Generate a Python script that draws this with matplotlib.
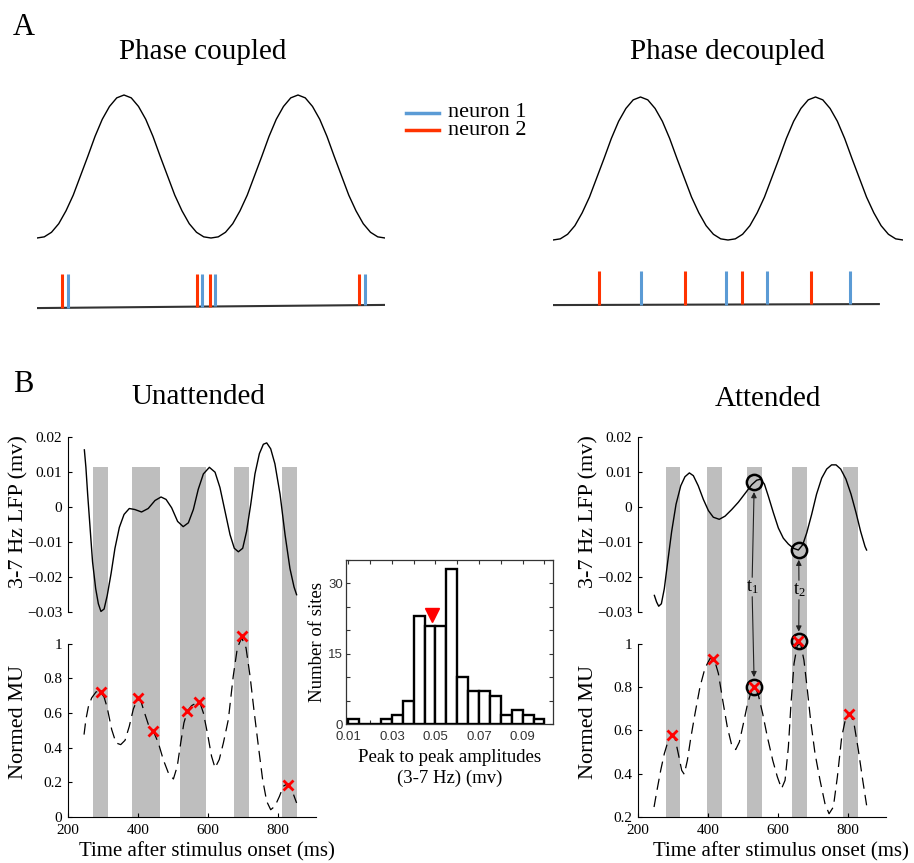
import numpy as np
import matplotlib
matplotlib.use('Agg')
import matplotlib.pyplot as plt
from matplotlib.lines import Line2D

plt.rcParams['font.family'] = ['Liberation Serif', 'DejaVu Serif']
plt.rcParams['mathtext.fontset'] = 'stix'

W, H = 914, 863

# ---- panel A: schematic theta wave (trough -> peak, 2 cycles) and spikes (% of width)
wave = [0, 0.008, 0.04, 0.1, 0.19, 0.3, 0.435, 0.57, 0.71, 0.83, 0.92, 0.98, 1,
        0.98, 0.92, 0.83, 0.71, 0.57, 0.435, 0.3, 0.19, 0.1, 0.04, 0.008, 0,
        0.008, 0.04, 0.1, 0.19, 0.3, 0.435, 0.57, 0.71, 0.83, 0.92, 0.98, 1,
        0.98, 0.92, 0.83, 0.71, 0.57, 0.435, 0.3, 0.19, 0.1, 0.04, 0.008, 0]
coupled_n1 = [8.9, 47.4, 51.1, 94.3]
coupled_n2 = [7.2, 46.0, 49.7, 92.5]
decoupled_n1 = [25.1, 49.4, 61.1, 84.9]
decoupled_n2 = [13.1, 37.7, 54.0, 73.7]
neuron_labels = ['neuron 1', 'neuron 2']

# ---- panel B: unattended
unatt_t = [247.6, 252, 257, 264, 271, 280, 287.6, 295, 304, 313, 324, 335, 347.6, 361, 376,
           392, 411, 430, 449.5, 466.7, 481, 497, 514, 530, 544.8, 559, 573, 587.6, 604.8,
           621, 635, 649.5, 663.8, 676, 687.6, 700, 711, 723, 735, 747.6, 759, 768.6, 780,
           792, 806.7, 821, 835, 846.7, 854]
unatt_lfp = [0.0164, 0.0114, 0.0037, -0.006, -0.0157, -0.0234, -0.0277, -0.0299, -0.0292,
             -0.0253, -0.019, -0.0118, -0.0058, -0.0021, -0.0004, -0.0007, -0.0014, -0.0004,
             0.0019, 0.0029, 0.0022, -0.0002, -0.0041, -0.0056, -0.0045, -0.0007, 0.0051,
             0.0095, 0.0114, 0.01, 0.0056, -0.0012, -0.0079, -0.0118, -0.0128, -0.0118,
             -0.007, 0.0008, 0.0095, 0.0153, 0.018, 0.0184, 0.0167, 0.0124, 0.0037, -0.0079,
             -0.0176, -0.0229, -0.0251]
unatt_mu_t = [246.7, 252, 259, 268.6, 281, 292, 303.8, 313, 325.7, 338, 351.4, 363.8, 376,
              387.6, 399, 408.6, 418, 430.5, 444.8, 459, 473, 487.6, 502, 513, 522.9, 532,
              541.9, 554, 568.6, 578, 587.6, 599, 611, 621, 633, 644.8, 659, 673, 684.8, 697,
              709.5, 721, 732, 744.8, 757, 768.6, 780, 792, 805, 816, 827.6, 840, 854]
unatt_mu = [0.475, 0.562, 0.635, 0.687, 0.721, 0.725, 0.692, 0.629, 0.504, 0.427, 0.417,
            0.442, 0.523, 0.623, 0.677, 0.671, 0.61, 0.533, 0.494, 0.427, 0.331, 0.254, 0.219,
            0.292, 0.427, 0.542, 0.61, 0.642, 0.658, 0.658, 0.6, 0.485, 0.35, 0.283, 0.331,
            0.427, 0.562, 0.812, 0.975, 1.033, 0.975, 0.812, 0.619, 0.408, 0.215, 0.09, 0.042,
            0.062, 0.119, 0.177, 0.192, 0.158, 0.081]
unatt_peak_t = [294, 400, 444.8, 542, 576, 697, 830.5]
unatt_peak_mu = [0.721, 0.687, 0.498, 0.61, 0.663, 1.042, 0.187]
unatt_bars = [(273, 316), (383, 464), (521, 594), (676, 718), (811, 854)]

# ---- panel B: attended
att_t = [247.6, 254, 260, 267.6, 276, 285.7, 297, 309.5, 323, 335, 347.6, 359, 373, 387.6,
         402, 416, 433, 449.5, 468.6, 487.6, 506.7, 525.7, 540, 551.4, 562, 573, 587.6,
         601.9, 616, 630.5, 644.8, 659, 671.4, 682.9, 697, 711, 725.7, 740, 754, 766.7, 780,
         795, 809.5, 823.8, 837, 849.5, 854]
att_lfp = [-0.0253, -0.0272, -0.0284, -0.0277, -0.0234, -0.0157, -0.007, 0.0008, 0.0061,
           0.0087, 0.0098, 0.009, 0.0061, 0.0022, -0.001, -0.0029, -0.0035, -0.0026, -0.0007,
           0.0014, 0.0039, 0.0064, 0.0077, 0.008, 0.0066, 0.0032, -0.0016, -0.006, -0.0089,
           -0.0106, -0.0118, -0.0123, -0.0108, -0.0074, -0.0021, 0.0037, 0.0083, 0.0109,
           0.0121, 0.0121, 0.0109, 0.008, 0.0037, -0.0016, -0.007, -0.0113, -0.0123]
att_mu_t = [246.7, 256, 265.7, 276, 287.6, 297, 306.7, 316, 325.7, 333, 342, 351.4, 363.8,
            378, 392, 406.7, 419, 430.5, 442.9, 456, 468.6, 480, 490.5, 502, 514, 525.7, 535,
            544.8, 557, 570.5, 585.7, 599, 611, 621, 630.5, 638, 646.7, 656, 665.7, 675,
            684.8, 694, 706.7, 721, 735, 746.7, 759, 770.5, 782.9, 795, 806.7, 818, 830.5,
            843, 854]
att_mu = [0.246, 0.331, 0.415, 0.492, 0.554, 0.577, 0.562, 0.492, 0.415, 0.397, 0.462, 0.562,
          0.677, 0.8, 0.885, 0.931, 0.926, 0.862, 0.738, 0.615, 0.531, 0.511, 0.546, 0.631,
          0.723, 0.785, 0.803, 0.762, 0.677, 0.569, 0.462, 0.385, 0.331, 0.369, 0.523, 0.723,
          0.908, 0.992, 0.997, 0.923, 0.785, 0.646, 0.492, 0.369, 0.262, 0.215, 0.246, 0.385,
          0.569, 0.662, 0.68, 0.631, 0.508, 0.369, 0.254]
att_peak_t = [297, 416, 533, 659, 805]
att_peak_mu = [0.577, 0.93, 0.80, 1.01, 0.677]
att_bars = [(280, 322), (397, 440), (511, 555), (642, 684), (787, 829)]
circled_t = [533, 660]
circled_lfp = [0.0071, -0.0123]
circled_mu = [0.80, 1.01]

# ---- histogram of peak-to-peak amplitudes
bin_left = [0.010, 0.015, 0.020, 0.025, 0.030, 0.035, 0.040, 0.045, 0.050,
            0.055, 0.060, 0.065, 0.070, 0.075, 0.080, 0.085, 0.090, 0.095]
counts = [1, 0, 0, 1, 2, 5, 23, 21, 21, 33, 10, 7, 7, 6, 2, 3, 2, 1]
median_amp = 0.0485

BLUE = '#5b9bd5'
RED = '#ff3300'
GRAY = '#bebebe'


def rect(x0, y0, x1, y1):
    return [x0 / W, 1 - y1 / H, (x1 - x0) / W, (y1 - y0) / H]


def fpx(x, y):
    return x / W, 1 - y / H


fig = plt.figure(figsize=(W / 100, H / 100), dpi=100)

# ================= A =================
fig.text(*fpx(24, 35), 'A', size=22, ha='center', va='baseline')


def schematic(box, n1, n2, base, top, base_end, title, tx):
    ax = fig.add_axes(rect(*box))
    ax.set_xlim(0, 100)
    ax.set_ylim(-0.6, 1.1)
    ax.axis('off')
    ax.plot(np.linspace(0, 100, len(wave)), wave, color='black', lw=1)
    ax.plot([0, base_end], base, color='#333333', lw=1.5, solid_capstyle='butt')
    for xs, c in [(n2, RED), (n1, BLUE)]:
        for x in xs:
            b = np.interp(x, [0, base_end], base)
            ax.plot([x, x], [b, top], color=c, lw=2.2, solid_capstyle='butt')
    fig.text(*fpx(tx, 59), title, size=21, ha='center', va='baseline')


schematic((37, 80.7, 385, 323.8), coupled_n1, coupled_n2, [-0.49, -0.468], -0.252, 100,
          'Phase coupled', 203)
schematic((553, 82.7, 903, 325.8), decoupled_n1, decoupled_n2, [-0.455, -0.448], -0.217, 93.4,
          'Phase decoupled', 727)

# legend: two coloured strokes and one two-line text block
for yy, c in [(113, BLUE), (130, RED)]:
    fig.add_artist(Line2D([406 / W, 439 / W], [1 - yy / H] * 2, color=c, lw=2.5))
fig.text(*fpx(448, 135), '\n'.join(neuron_labels), size=16, ha='left', va='baseline',
         linespacing=0.95)

# ================= B =================
fig.text(*fpx(23, 392), 'B', size=22, ha='center', va='baseline')


def side(x0, t, lfp, mu_t, mu, pk_t, pk_mu, bars, mu_ylim, mu_ticks, title, title_y, xl_x):
    x1 = x0 + 710 * 0.35
    sh = fig.add_axes(rect(x0, 466.7, x1, 817))
    sh.set_xlim(200, 910)
    sh.set_ylim(0, 1)
    sh.axis('off')
    for s, e in bars:
        sh.axvspan(s, e, color=GRAY, lw=0)

    al = fig.add_axes(rect(x0, 437.3, x1, 611.8))
    al.set_facecolor('none')
    al.set_xlim(200, 910)
    al.set_ylim(-0.03, 0.02)
    for s in ['top', 'right', 'bottom']:
        al.spines[s].set_visible(False)
    al.set_xticks([])
    yt = [-0.03, -0.02, -0.01, 0, 0.01, 0.02]
    al.set_yticks(yt)
    al.set_yticklabels(['\u22120.03', '\u22120.02', '\u22120.01', '0', '0.01', '0.02'])
    al.tick_params(direction='in', length=3, labelsize=11, pad=4)
    al.plot(t, lfp, color='black', lw=1, clip_on=False)

    am = fig.add_axes(rect(x0, 643.5, x1, 817))
    am.set_facecolor('none')
    am.set_xlim(200, 910)
    am.set_ylim(*mu_ylim)
    for s in ['top', 'right']:
        am.spines[s].set_visible(False)
    am.set_xticks([200, 400, 600, 800])
    am.set_yticks(mu_ticks)
    am.set_yticklabels(['%g' % v for v in mu_ticks])
    am.tick_params(direction='in', length=3, labelsize=11, pad=4)
    am.tick_params(axis='x', pad=5)
    am.plot(mu_t, mu, color='black', lw=0.9, dashes=(9, 5), clip_on=False)
    am.plot(pk_t, pk_mu, 'x', color='red', ms=6.5, mew=2, clip_on=False, zorder=5)

    fig.text(x0 / W - 49 / W, 1 - 512 / H, '3-7 Hz LFP (mv)', size=16, rotation=90,
             ha='center', va='center')
    fig.text(x0 / W - 49 / W, 1 - 722 / H, 'Normed MU', size=16, rotation=90,
             ha='center', va='center')
    fig.text(*fpx(xl_x, 852), 'Time after stimulus onset (ms)', size=15, ha='center',
             va='center')
    fig.text(*fpx((x0 + x1) / 2 + 6, title_y), title, size=21, ha='center', va='baseline')
    return al, am


side(67.7, unatt_t, unatt_lfp, unatt_mu_t, unatt_mu, unatt_peak_t, unatt_peak_mu, unatt_bars,
     (0, 1), [0, 0.2, 0.4, 0.6, 0.8, 1], 'Unattended', 404, 207)
al, am = side(637.7, att_t, att_lfp, att_mu_t, att_mu, att_peak_t, att_peak_mu, att_bars,
              (0.2, 1), [0.2, 0.4, 0.6, 0.8, 1], 'Attended', 406, 781)

al.plot(circled_t, circled_lfp, 'o', ms=11, mfc='none', mec='black', mew=1.8, clip_on=False)
am.plot(circled_t, circled_mu, 'o', ms=11, mfc='none', mec='black', mew=1.8, clip_on=False)

for i, (lx, ly, name) in enumerate([(752, 587, r'$\mathregular{t_1}$'),
                                    (799, 590, r'$\mathregular{t_2}$')]):
    fig.text(*fpx(lx, ly), name, size=13, ha='center', va='center')
    ap = dict(arrowstyle='-|>', color='#222222', lw=0.8, shrinkA=7, shrinkB=7,
              mutation_scale=8)
    al.annotate('', xy=(circled_t[i], circled_lfp[i]), xycoords='data', xytext=fpx(lx, ly),
                textcoords='figure fraction', arrowprops=ap, annotation_clip=False)
    am.annotate('', xy=(circled_t[i], circled_mu[i]), xycoords='data', xytext=fpx(lx, ly),
                textcoords='figure fraction', arrowprops=ap, annotation_clip=False)

# ================= histogram =================
ah = fig.add_axes(rect(345.7, 560, 552.7, 724))
ah.bar(bin_left, counts, width=0.005, align='edge', facecolor='white', edgecolor='black',
       lw=1.7, zorder=3)
ah.plot([median_amp], [counts[7] + 2.2], 'v', color='red', ms=10, zorder=4)
ah.set_xlim(0.0088, 0.1038)
ah.set_ylim(0, 35)
xt = [0.01 * k for k in range(1, 11)]
ah.set_xticks(xt)
ah.set_xticklabels(['%.2f' % v if k % 2 == 0 else '' for k, v in enumerate(xt)])
yt = list(range(0, 36, 5))
ah.set_yticks(yt)
ah.set_yticklabels([str(v) if v % 15 == 0 else '' for v in yt])
ah.tick_params(direction='in', length=3, top=True, right=True, labelsize=9.5,
               labelcolor='#333333', color='#333333')
ah.tick_params(axis='x', pad=5)
ah.tick_params(axis='y', pad=2)
for lab in ah.get_xticklabels() + ah.get_yticklabels():
    lab.set_family(['Liberation Sans', 'DejaVu Sans'])
for s in ah.spines.values():
    s.set_color('#333333')
    s.set_linewidth(0.9)
fig.text(*fpx(318, 642), 'Number of sites', size=13.5, rotation=90, ha='center', va='center')
fig.text(*fpx(450, 757), 'Peak to peak amplitudes', size=13.5, ha='center', va='center')
fig.text(*fpx(450, 778), '(3-7 Hz) (mv)', size=13.5, ha='center', va='center')

fig.savefig('out.png', dpi=100)
